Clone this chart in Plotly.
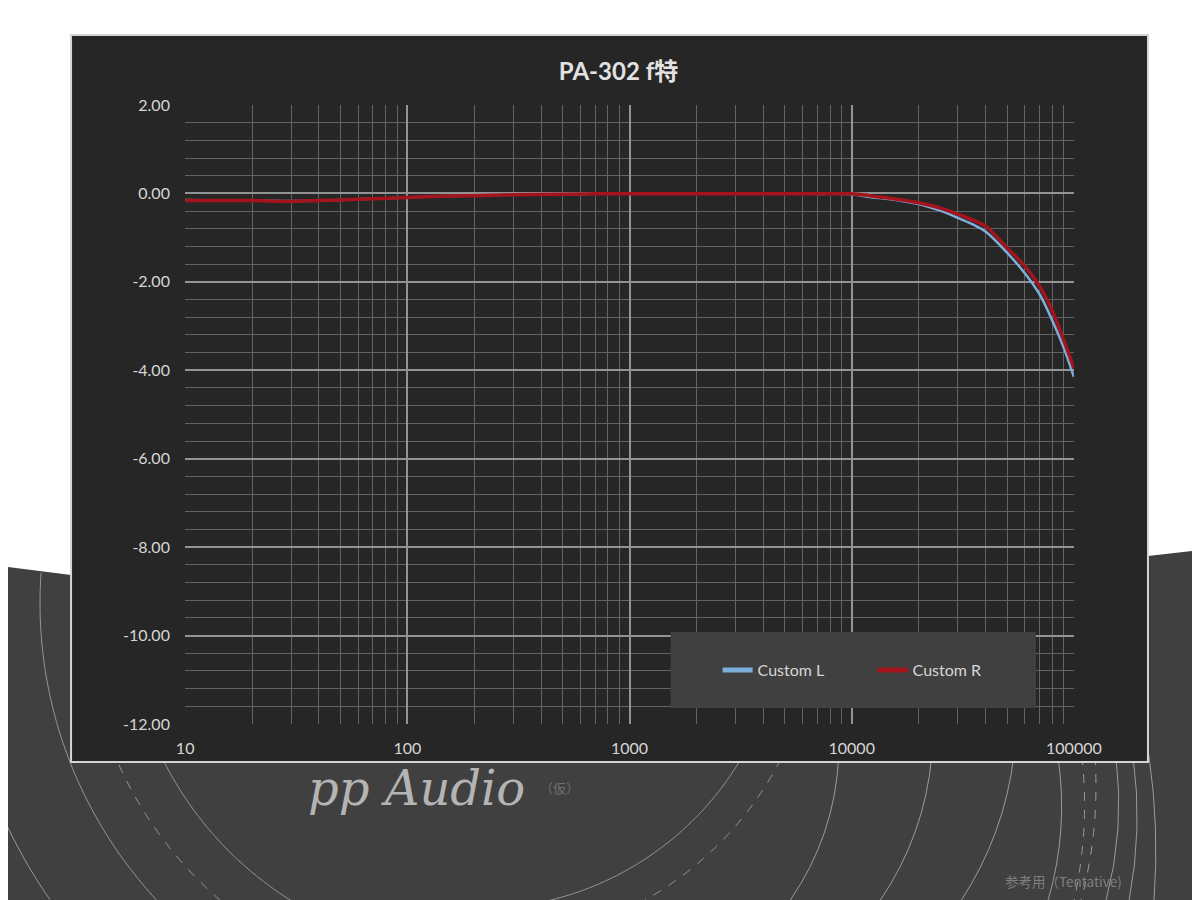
import numpy as np
import plotly.graph_objects as go

# ---------------- data ----------------
freq_hz = [10, 15, 20, 30, 40, 50, 70, 100, 150, 200, 300, 500, 700, 1000, 2000,
           3000, 5000, 7000, 10000, 12000, 15000, 20000, 25000, 30000, 35000,
           40000, 50000, 60000, 70000, 80000, 90000, 100000]
custom_l = [-0.15, -0.16, -0.16, -0.17, -0.16, -0.15, -0.12, -0.09, -0.06, -0.05,
            -0.03, -0.02, -0.01, -0.01, -0.01, -0.01, -0.01, -0.01, -0.02, -0.08,
            -0.13, -0.24, -0.39, -0.55, -0.70, -0.86, -1.34, -1.80, -2.28, -2.88,
            -3.49, -4.15]
custom_r = [-0.16, -0.16, -0.16, -0.18, -0.16, -0.15, -0.12, -0.09, -0.06, -0.05,
            -0.03, -0.02, -0.01, -0.01, -0.01, -0.01, -0.01, -0.01, -0.01, -0.05,
            -0.11, -0.21, -0.33, -0.47, -0.60, -0.74, -1.23, -1.64, -2.10, -2.66,
            -3.32, -3.95]
x_tickvals = [10, 100, 1000, 10000, 100000]
x_ticktext = ["10", "100", "1000", "10000", "100000"]
y_tickvals = [2, 0, -2, -4, -6, -8, -10, -12]
y_ticktext = ["2.00", "0.00", "-2.00", "-4.00", "-6.00", "-8.00", "-10.00", "-12.00"]

W, H = 1200, 900
# measured placement of the drawing area on the photographed page
OX, OY, FW, FH = 17, 17, 1162, 881
def X(px):
    return (px - OX) / FW
def Y(py):
    return 1 - (py - OY) / FH

FONT = "Lato, 'Noto Sans CJK JP', sans-serif"

fig = go.Figure()
fig.add_trace(go.Scatter(x=freq_hz, y=custom_l, name="Custom L", mode="lines",
                         line=dict(color="#7eafdc", width=2.5, shape="spline", smoothing=1.0)))
fig.add_trace(go.Scatter(x=freq_hz, y=custom_r, name="Custom R", mode="lines",
                         line=dict(color="#a3141d", width=3.5, shape="spline", smoothing=1.0)))

# ---------------- decorative slide background ----------------
edge_x = [0, 71, 600, 1147, 1200]
edge_y = [565, 574, 600, 555, 549]

def edge(x):
    return np.interp(x, edge_x, edge_y)

shapes = []
LEFT_P, BOTTOM_P = -0.01541, -0.00905
band = f"M {LEFT_P},{Y(564)} " + " ".join(f"L {X(a)},{Y(b)}" for a, b in zip(edge_x, edge_y))
band += f" L {X(1200)},{Y(900)} L {LEFT_P},{Y(900)} Z"
shapes.append(dict(type="path", xref="paper", yref="paper", layer="below",
                   path=band, fillcolor="#404040", line=dict(width=0)))

def arc_paths(cx, cy, r, side):
    t = np.linspace(0, 2 * np.pi, 1441)
    xs = cx + r * np.cos(t)
    ys = cy + r * np.sin(t)
    ok = (xs >= 0) & (xs <= W) & (ys <= H) & (ys >= edge(xs))
    ok &= (xs <= cx) if side == "left" else (xs >= cx)
    paths, cur = [], []
    for k in range(len(t)):
        if ok[k]:
            cur.append((xs[k], ys[k]))
        elif cur:
            paths.append(cur)
            cur = []
    if cur:
        paths.append(cur)
    return ["M " + " L ".join(f"{X(a):.5f},{Y(b):.5f}" for a, b in p)
            for p in paths if len(p) > 1]

rings = [(306, "right", "solid"), (341, "right", "dash"), (351, "left", "solid"),
         (393, "left", "dash"), (437, "left", "solid"), (520, "left", "solid")]
for r, side, d in rings:
    for p in arc_paths(477, 602, r, side):
        shapes.append(dict(type="path", xref="paper", yref="paper", layer="below",
                           path=p, line=dict(color="#9a9a9a", width=1, dash=d)))

right_arcs = [((838, 755), (789, 900), 11, "solid"), ((931, 755), (879, 900), 10, "solid"),
              ((1013, 755), (960, 900), 9, "solid"), ((1057, 755), (1047, 900), 8, "solid"),
              ((1081, 755), (1073, 900), 6, "dash"), ((1094, 755), (1080, 900), 6, "dash"),
              ((1115, 755), (1105, 900), 7, "solid"), ((1132, 755), (1128, 900), 6, "solid"),
              ((1148, 755), (1153, 900), 4, "solid")]
for (x0, y0), (x1, y1), s, d in right_arcs:
    mx, my = (x0 + x1) / 2, (y0 + y1) / 2
    dx, dy = x1 - x0, y1 - y0
    ln = np.hypot(dx, dy)
    nx, ny = -dy / ln, dx / ln
    if nx < 0:
        nx, ny = -nx, -ny
    qx, qy = mx + 2 * s * nx, my + 2 * s * ny
    shapes.append(dict(type="path", xref="paper", yref="paper", layer="below",
                       path=f"M {X(x0)},{Y(y0)} Q {X(qx)},{Y(qy)} {X(x1)},{Y(y1)}",
                       line=dict(color="#9a9a9a", width=1, dash=d)))

# chart panel
shapes.append(dict(type="rect", xref="paper", yref="paper", layer="below",
                   x0=X(71), x1=X(1147), y0=Y(761), y1=Y(34),
                   fillcolor="#262626", line=dict(color="#d4d4d4", width=2)))
# legend box
shapes.append(dict(type="rect", xref="paper", yref="paper", layer="above",
                   x0=X(670), x1=X(1035), y0=Y(707), y1=Y(631),
                   fillcolor="#404040", line=dict(width=0)))

annotations = [
    dict(text="pp Audio", x=X(416), y=Y(787), xref="paper", yref="paper",
         showarrow=False, xanchor="center", yanchor="middle",
         font=dict(family="'DejaVu Serif', serif", size=48, color="#b4b4b4", style="italic")),
    dict(text="（仮）", x=X(559), y=Y(786), xref="paper", yref="paper",
         showarrow=False, xanchor="center", yanchor="middle",
         font=dict(family="'Noto Sans CJK JP'", size=13, color="#6e6e6e")),
    dict(text="参考用（Tentative)", x=X(1063), y=Y(880), xref="paper", yref="paper",
         showarrow=False, xanchor="center", yanchor="middle",
         font=dict(family="'Noto Sans CJK JP'", size=13.5, color="#7f7f7f")),
]

major = "#939393"
minor_c = "#626262"

fig.update_layout(
    width=W, height=H,
    margin=dict(l=0, r=0, t=0, b=0),
    paper_bgcolor="#ffffff",
    plot_bgcolor="rgba(0,0,0,0)",
    font=dict(family=FONT, size=16, color="#d6d6d6"),
    title=dict(text="<b>PA-302 f特</b>", x=X(618), y=Y(71), xanchor="center",
               yanchor="middle", xref="paper", yref="paper",
               font=dict(family=FONT, size=24, color="#e2e2e2")),
    shapes=shapes,
    annotations=annotations,
    showlegend=True,
    legend=dict(orientation="h", x=X(717), y=Y(669), xanchor="left", yanchor="middle",
                bgcolor="rgba(0,0,0,0)", font=dict(family=FONT, size=16, color="#d6d6d6"),
                entrywidth=110, entrywidthmode="pixels", itemsizing="constant"),
    xaxis=dict(type="log", range=[1, 5], domain=[X(185), X(1073)],
               tickmode="array", tickvals=x_tickvals, ticktext=x_ticktext,
               showgrid=True, gridcolor=major, gridwidth=1.5,
               ticks="outside", ticklen=10, tickcolor="rgba(0,0,0,0)",
               zeroline=False, showline=False,
               tickfont=dict(family=FONT, size=16, color="#d6d6d6"),
               minor=dict(dtick="D1", showgrid=True, gridcolor=minor_c, gridwidth=1, ticks="")),
    yaxis=dict(range=[-12, 2], domain=[Y(723), Y(104)],
               tickmode="array", tickvals=y_tickvals, ticktext=y_ticktext,
               showgrid=True, gridcolor=major, gridwidth=1.5,
               ticks="outside", ticklen=11, tickcolor="rgba(0,0,0,0)",
               zeroline=False, showline=False,
               tickfont=dict(family=FONT, size=16, color="#d6d6d6"),
               minor=dict(tick0=-12, dtick=0.4, showgrid=True, gridcolor=minor_c,
                          gridwidth=1, ticks="")),
)

fig.write_html("out.html", config={"displayModeBar": False})
